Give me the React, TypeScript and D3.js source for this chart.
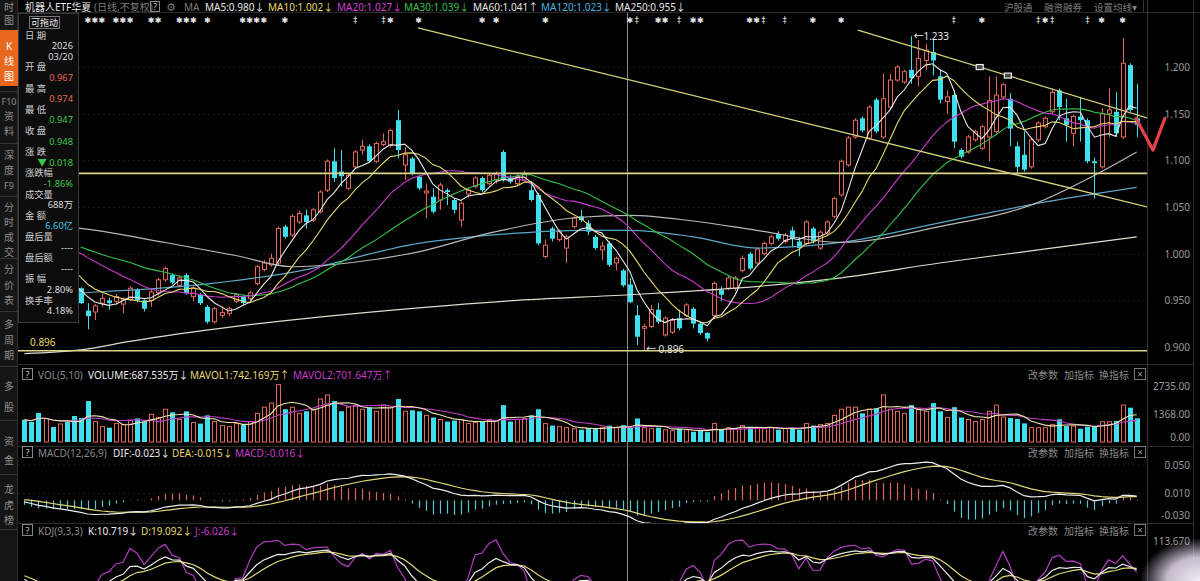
import React from "react";
import * as d3 from "d3";

// closes before the first drawn bar (only used to warm up the moving averages)
const PRE_CLOSE = [1.015,1.022,1.028,1.020,1.012,1.018,1.026,1.030,1.024,1.015,1.020,1.028,1.034,1.030,1.025,1.028,1.032,1.026,1.018,1.012,1.010];

const OPEN = [1.005,0.996,0.986,0.974,0.979,0.966,0.971,0.963,
0.963,0.939,0.9375,0.947,0.950,0.949,0.946,0.951,0.961,0.950,
0.950,0.958,0.972,0.977,0.966,0.977,0.954,0.956,0.943,0.927,
0.934,0.936,0.949,0.954,0.952,0.968,0.983,0.988,0.990,1.029,
1.020,1.034,1.041,1.036,1.045,1.068,1.099,1.088,1.070,1.093,
1.111,1.115,1.099,1.117,1.116,1.143,1.095,1.102,1.0825,1.065,
1.061,1.0575,1.068,1.0575,1.036,1.064,1.072,1.081,1.075,1.079,
1.109,1.081,1.075,1.079,1.068,1.063,0.997,1.027,1.015,1.006,
1.029,1.040,1.0325,1.018,1.004,1.011,0.990,0.982,0.967,0.934,
0.920,0.922,0.940,0.913,0.916,0.931,0.934,0.941,0.925,0.915,
0.934,0.961,0.963,0.963,0.982,1.000,0.990,1.000,1.011,1.021,
1.013,1.025,1.013,1.011,1.027,1.006,1.022,1.040,1.063,1.095,
1.125,1.145,1.124,1.165,1.125,1.157,1.186,1.184,1.197,1.190,
1.207,1.216,1.190,1.163,1.170,1.111,1.109,1.122,1.113,1.125,
1.131,1.168,1.166,1.115,1.106,1.093,1.122,1.136,1.152,1.175,
1.145,1.129,1.147,1.143,1.099,1.093,1.150,1.152,1.125,1.202,1.145];

const HIGH = [1.008,0.998,0.989,0.984,0.981,0.975,0.973,0.966,
0.964,0.947,0.946,0.957,0.953,0.957,0.953,0.965,0.963,0.951,
0.962,0.974,0.986,0.979,0.977,0.979,0.965,0.958,0.945,0.943,
0.944,0.943,0.958,0.956,0.960,0.988,0.993,1.000,1.029,1.031,
1.042,1.046,1.047,1.049,1.068,1.101,1.113,1.111,1.086,1.111,
1.122,1.117,1.120,1.129,1.134,1.154,1.114,1.104,1.084,1.075,
1.070,1.076,1.070,1.059,1.056,1.071,1.083,1.083,1.086,1.088,
1.111,1.084,1.085,1.089,1.077,1.065,1.015,1.029,1.026,1.020,
1.040,1.047,1.036,1.020,1.013,1.013,0.997,0.984,0.974,0.945,
0.925,0.945,0.947,0.933,0.931,0.940,0.947,0.943,0.927,0.916,
0.970,0.965,0.976,0.976,0.998,1.002,1.007,1.013,1.020,1.024,
1.022,1.029,1.018,1.036,1.029,1.025,1.036,1.061,1.101,1.126,
1.145,1.147,1.159,1.167,1.193,1.193,1.202,1.197,1.233,1.229,
1.225,1.229,1.197,1.175,1.175,1.113,1.127,1.133,1.138,1.190,
1.190,1.183,1.172,1.120,1.131,1.124,1.142,1.147,1.177,1.177,
1.166,1.149,1.168,1.145,1.103,1.156,1.177,1.173,1.231,1.204,1.182];

const LOW = [0.992,0.982,0.972,0.970,0.965,0.962,0.958,0.952,
0.946,0.919,0.929,0.943,0.940,0.945,0.936,0.949,0.948,0.938,
0.943,0.955,0.970,0.967,0.964,0.956,0.949,0.945,0.925,0.925,
0.931,0.933,0.947,0.945,0.950,0.966,0.981,0.986,0.988,1.016,
1.018,1.032,1.027,1.034,1.043,1.066,1.077,1.072,1.068,1.091,
1.106,1.097,1.097,1.115,1.114,1.102,1.079,1.084,1.068,1.038,
1.043,1.047,1.052,1.043,1.029,1.060,1.070,1.066,1.073,1.075,
1.077,1.075,1.073,1.077,1.056,1.009,0.995,1.013,1.013,0.990,
1.027,1.034,1.020,1.004,0.993,0.986,0.982,0.964,0.947,0.902,
0.896,0.920,0.925,0.911,0.914,0.918,0.932,0.920,0.913,0.906,
0.930,0.949,0.961,0.960,0.980,0.982,0.988,0.998,1.009,1.014,
1.011,1.007,0.997,1.009,1.011,1.004,1.020,1.038,1.061,1.093,
1.123,1.130,1.122,1.129,1.123,1.155,1.184,1.182,1.182,1.179,
1.197,1.191,1.161,1.150,1.113,1.102,1.107,1.120,1.111,1.099,
1.129,1.166,1.115,1.086,1.088,1.091,1.120,1.134,1.150,1.143,
1.120,1.115,1.120,1.097,1.059,1.091,1.125,1.125,1.123,1.152,1.125];

const CLOSE = [0.995,0.985,0.975,0.980,0.968,0.972,0.962,0.955,
0.947,0.933,0.944,0.952,0.947,0.954,0.951,0.963,0.950,0.941,
0.959,0.972,0.984,0.969,0.974,0.958,0.963,0.947,0.927,0.941,
0.937,0.941,0.956,0.947,0.958,0.986,0.990,0.995,1.027,1.018,
1.040,1.043,1.034,1.047,1.066,1.099,1.081,1.083,1.084,1.109,
1.115,1.099,1.118,1.120,1.132,1.111,1.106,1.086,1.070,1.067,
1.045,1.0736,1.066,1.047,1.054,1.068,1.081,1.068,1.084,1.086,
1.079,1.077,1.0825,1.086,1.0575,1.011,1.009,1.016,1.024,1.018,
1.038,1.036,1.0236,1.006,1.008,0.988,0.995,0.966,0.948,0.911,
0.922,0.940,0.927,0.931,0.9285,0.920,0.945,0.925,0.915,0.909,
0.968,0.956,0.974,0.974,0.995,0.984,1.005,1.011,1.018,1.016,
1.020,1.016,1.006,1.034,1.013,1.023,1.034,1.059,1.099,1.124,
1.143,1.132,1.157,1.131,1.166,1.186,1.200,1.195,1.188,1.209,
1.218,1.207,1.165,1.168,1.120,1.104,1.125,1.131,1.136,1.164,
1.170,1.181,1.134,1.093,1.090,1.122,1.140,1.145,1.173,1.157,
1.138,1.147,1.143,1.099,1.097,1.150,1.154,1.129,1.204,1.154,1.138];

// volume in 万
const VOLUME = [1090,980,1420,1140,730,880,980,1270,
1170,2000,1000,750,700,900,850,1050,1150,1000,
1350,1200,1600,1450,1100,1500,950,900,1300,1000,
800,750,900,850,1000,1400,1700,1900,2800,1600,
1700,1400,1500,1600,2100,2300,2000,1500,1700,1800,
1600,1700,1500,1800,1700,2100,1500,1550,1500,1300,
1200,1100,1000,1050,1100,900,950,1000,1100,1050,
1800,1000,1100,1150,1300,1600,900,800,750,700,
650,600,680,680,700,800,700,820,688,1150,
700,650,700,600,550,650,600,500,550,480,
900,600,700,650,800,750,700,650,700,600,
650,700,600,900,800,850,900,1300,1600,1700,
1700,1400,1600,1650,2300,1600,1500,1400,1800,1600,
1500,1900,1500,1200,1700,1200,1100,1000,1100,1500,
1800,1220,1170,1120,910,700,700,700,860,1110,
780,780,650,750,750,990,990,1025,1805,1675,1155];

// long moving averages (bar index, value)
const MA60_I = [0, 8, 20, 30, 38, 46, 56, 66, 79, 86, 95, 104, 116, 130, 144, 151, 158];
const MA60_V = [1.032, 1.027, 1.012, 0.998, 0.986, 0.990, 1.002, 1.022, 1.039, 1.041, 1.035, 1.025, 1.012, 1.029, 1.055, 1.080, 1.109];
const MA120_I = [0, 8, 24, 38, 56, 70, 79, 86, 95, 104, 116, 130, 144, 158];
const MA120_V = [0.955, 0.958, 0.966, 0.980, 1.011, 1.022, 1.025, 1.025, 1.018, 1.006, 1.012, 1.033, 1.054, 1.071];
const MA250_I = [0, 8, 15, 30, 56, 70, 86, 101, 116, 130, 144, 158];
const MA250_V = [0.893, 0.897, 0.906, 0.922, 0.942, 0.950, 0.956, 0.963, 0.974, 0.990, 1.004, 1.018];

// drawn lines: [i0, p0, i1, p1]
const TRENDS = [[55.9, 1.2418, 159.5, 1.050], [118.4, 1.2396, 159.5, 1.1454]];
const TREND_MARK_I = [135.7, 139.7];
const H_LINES = [1.086, 0.896];
const V_MARK_I = [157.9, 160.3, 162];
const V_MARK_P = [1.145, 1.111, 1.145];

const PRICE_TICKS = [1.2, 1.15, 1.1, 1.05, 1.0, 0.95, 0.9];
const NEWS_I = [9,10,11,13,14,15,18,19,22,23,24,26,31,32,33,34,37,47,51,52,56,65,67,74,86,87,90,91,93,95,96,103,104,105,108,112,116,132,136,144,145,146,151,153,156];
const NEWS_DAGGER = [47, 51, 87, 93, 105, 108, 132, 144, 146, 151];
const CROSS_I = 86;
const HIGH_MARK_I = 126;
const LOW_MARK_I = 88;

const FONT = "'Noto Sans', 'Noto Sans CJK SC', sans-serif";
const RED = "#e0685a";
const CYAN = "#3ee0ee";
const GREEN = "#3cc84a";

const SIDEBAR = [
  { t: ["时"], y: [7] }, { t: ["图"], y: [20] },
  { t: ["K", "线", "图"], y: [46, 61, 76], active: true },
  { t: ["F10", "资", "料"], y: [101, 116, 131] },
  { t: ["深", "度", "F9"], y: [155, 170, 185] },
  { t: ["分", "时", "成", "交"], y: [207, 222, 237, 252] },
  { t: ["分", "价", "表"], y: [269, 285, 300] },
  { t: ["多", "周", "期"], y: [324, 340, 355] },
  { t: ["多", "股"], y: [386, 407] },
  { t: ["资", "金"], y: [441, 460] },
  { t: ["龙", "虎", "榜"], y: [489, 505, 520] },
];
const SIDEBAR_SEP = [91, 143, 196, 258, 311, 366, 420, 474, 529];

// info panel lines: text, colour, is value (right aligned)
const INFO: [string, string, boolean][] = [
  ["日 期", "#cfcfcf", false], ["2026", "#ddd", true], ["03/20", "#ddd", true],
  ["开 盘", "#cfcfcf", false], ["0.967", RED, true],
  ["最 高", "#cfcfcf", false], ["0.974", RED, true],
  ["最 低", "#cfcfcf", false], ["0.947", GREEN, true],
  ["收 盘", "#cfcfcf", false], ["0.948", GREEN, true],
  ["涨 跌", "#cfcfcf", false], ["▼ 0.018", GREEN, true],
  ["涨跌幅", "#cfcfcf", false], ["-1.86%", GREEN, true],
  ["成交量", "#cfcfcf", false], ["688万", "#ddd", true],
  ["金 额", "#cfcfcf", false], ["6.60亿", "#40c8e8", true],
  ["盘后量", "#cfcfcf", false], ["----", "#ddd", true],
  ["盘后额", "#cfcfcf", false], ["----", "#ddd", true],
  ["振 幅", "#cfcfcf", false], ["2.80%", "#ddd", true],
  ["换手率", "#cfcfcf", false], ["4.18%", "#ddd", true],
];

const HEADER = [
  ["MA5:0.980↓", "#e8e8e8", 205], ["MA10:1.002↓", "#e6d96e", 268], ["MA20:1.027↓", "#d040d0", 337],
  ["MA30:1.039↓", "#34c24a", 404], ["MA60:1.041↑", "#e8e8e8", 473], ["MA120:1.023↓", "#4ab4e0", 541],
  ["MA250:0.955↓", "#e8e8e8", 615],
];

export default function App() {
  const N = CLOSE.length;
  const x = d3.scaleLinear().domain([0, N - 1]).range([24.4, 1136.7]);
  const yP = d3.scaleLinear().domain([0.9, 1.2]).range([347, 67]);
  const yV = d3.scaleLinear().domain([0, 2735]).range([442, 386]);
  const yM = d3.scaleLinear().domain([-0.03, 0.05]).range([521.6, 465]);
  const yK = d3.scaleLinear().domain([-12, 113.67]).range([606, 541]);

  const all = PRE_CLOSE.concat(CLOSE);
  const P = PRE_CLOSE.length;
  const ma = (n: number) => CLOSE.map((_, i) => {
    const e = P + i, s = e - n + 1;
    return s < 0 ? null : (d3.mean(all.slice(s, e + 1)) as number);
  });
  const MAS: [(number | null)[], string][] = [
    [ma(30), "#34c24a"], [ma(20), "#c83ccc"], [ma(10), "#e6d96e"], [ma(5), "#e8e8e8"],
  ];

  // MACD
  let e12 = all[0], e26 = all[0], dea = 0;
  const dif: number[] = [], deaA: number[] = [], hist: number[] = [];
  all.forEach((c, k) => {
    e12 = e12 * 11 / 13 + c * 2 / 13;
    e26 = e26 * 25 / 27 + c * 2 / 27;
    const d = e12 - e26;
    dea = dea * 8 / 10 + d * 2 / 10;
    if (k >= P) { dif.push(d); deaA.push(dea); hist.push(2 * (d - dea)); }
  });

  // KDJ
  let K = 50, D = 50;
  const kA: number[] = [], dA: number[] = [], jA: number[] = [];
  CLOSE.forEach((c, i) => {
    const s = Math.max(0, i - 8);
    const hh = d3.max(HIGH.slice(s, i + 1)) as number;
    const ll = d3.min(LOW.slice(s, i + 1)) as number;
    const rsv = hh === ll ? 50 : ((c - ll) / (hh - ll)) * 100;
    K = (2 * K + rsv) / 3; D = (2 * D + K) / 3;
    kA.push(K); dA.push(D); jA.push(3 * K - 2 * D);
  });

  const vma = (n: number) => VOLUME.map((_, i) => d3.mean(VOLUME.slice(Math.max(0, i - n + 1), i + 1)) as number);

  const lineP = d3.line<number | null>().defined((d) => d != null).x((_, i) => x(i)).y((d) => yP(d as number));
  const sparse = (I: number[], V: number[]) =>
    d3.line<number>().curve(d3.curveMonotoneX).x((_, k) => x(I[k])).y((d) => yP(d))(V) as string;
  const lineOn = (sc: d3.ScaleLinear<number, number>) =>
    d3.line<number>().x((_, i) => x(i)).y((d) => sc(d));

  const cx = (i: number) => Math.round(x(i)) + 0.5;

  const txt = (s: string, X: number, Y: number, fill: string, size = 10, anchor: any = "start", extra: any = {}) => (
    <text x={X} y={Y} fill={fill} fontSize={size} textAnchor={anchor} fontFamily={FONT} {...extra}>{s}</text>
  );

  const panelTools = (Y: number) => (
    <g>
      {txt("改参数", 1028, Y, "#8a8a8a")}
      {txt("加指标", 1064, Y, "#8a8a8a")}
      {txt("换指标", 1099, Y, "#8a8a8a")}
      <rect x={1134.5} y={Y - 10.5} width={11} height={11} fill="none" stroke="#777" />
      {txt("×", 1140, Y - 1, "#999", 10, "middle")}
    </g>
  );
  const qBox = (Y: number) => (
    <g>
      <rect x={22.5} y={Y - 10.5} width={10} height={11} fill="none" stroke="#888" />
      {txt("?", 27.5, Y - 1.5, "#ccc", 9, "middle")}
    </g>
  );

  const trendScale = (t: number[]) => d3.scaleLinear().domain([t[0], t[2]]).range([t[1], t[3]]);
  const tB = trendScale(TRENDS[1]);

  return (
    <div style={{ position: "fixed", left: 0, top: 0, width: 1200, height: 581, background: "#000", overflow: "hidden" }}>
      <svg width={1200} height={581} style={{ display: "block" }}>
        <defs>
          <clipPath id="cMain"><rect x={18} y={12} width={1129} height={352} /></clipPath>
          <clipPath id="cVol"><rect x={18} y={382} width={1129} height={64} /></clipPath>
          <clipPath id="cMacd"><rect x={18} y={460} width={1129} height={63} /></clipPath>
          <clipPath id="cKdj"><rect x={18} y={538} width={1129} height={43} /></clipPath>
          <radialGradient id="glare" cx="1" cy="1" r="1">
            <stop offset="0" stopColor="#f4eef6" stopOpacity="1" />
            <stop offset="0.55" stopColor="#e8dcef" stopOpacity="0.85" />
            <stop offset="1" stopColor="#e0d0ea" stopOpacity="0" />
          </radialGradient>
        </defs>
        <rect x={0} y={0} width={1200} height={581} fill="#000" />

        {/* grid */}
        {PRICE_TICKS.map((p) => (
          <line key={p} x1={18} x2={1147} y1={Math.round(yP(p)) + 0.5} y2={Math.round(yP(p)) + 0.5} stroke="#1c1c1c" strokeDasharray="2,3" />
        ))}
        {[1368].map((v) => <line key={v} x1={18} x2={1147} y1={yV(v)} y2={yV(v)} stroke="#1c1c1c" strokeDasharray="2,3" />)}
        {[0.05, 0.01, -0.03].map((v) => <line key={v} x1={18} x2={1147} y1={yM(v)} y2={yM(v)} stroke="#1c1c1c" strokeDasharray="2,3" />)}

        {/* panel separators */}
        <line x1={0} x2={1200} y1={12.5} y2={12.5} stroke="#2a2a2a" />
        {[364.5, 446.5, 523.5].map((y) => <line key={y} x1={18} x2={1193} y1={y} y2={y} stroke="#2e2e2e" />)}
        <line x1={1147.5} x2={1147.5} y1={0} y2={581} stroke="#333" />
        <line x1={1193.5} x2={1193.5} y1={0} y2={581} stroke="#2e2e2e" />

        {/* crosshair */}
        <line x1={cx(CROSS_I) - 3} x2={cx(CROSS_I) - 3} y1={13} y2={581} stroke="#8a8a8a" strokeWidth={1} />

        <g clipPath="url(#cMain)">
          {/* candles */}
          {CLOSE.map((c, i) => {
            const o = OPEN[i], up = c >= o;
            const col = up ? RED : CYAN;
            const top = yP(Math.max(o, c)), bot = yP(Math.min(o, c));
            const X = cx(i);
            return (
              <g key={i}>
                <line x1={X} x2={X} y1={yP(HIGH[i])} y2={yP(LOW[i])} stroke={col} strokeWidth={1} />
                {up ? (
                  <rect x={X - 2} y={top} width={4} height={Math.max(bot - top, 1)} fill="#000" stroke={col} strokeWidth={1} />
                ) : (
                  <rect x={X - 2.5} y={top} width={5} height={Math.max(bot - top, 1.2)} fill={col} />
                )}
              </g>
            );
          })}
          {/* long MAs */}
          <path d={sparse(MA250_I, MA250_V)} fill="none" stroke="#dcdcd0" strokeWidth={1.2} />
          <path d={sparse(MA120_I, MA120_V)} fill="none" stroke="#5aa8c8" strokeWidth={1.2} />
          <path d={sparse(MA60_I, MA60_V)} fill="none" stroke="#b8b8b8" strokeWidth={1.2} />
          {MAS.map(([d, col], k) => (
            <path key={k} d={lineP(d) as string} fill="none" stroke={col} strokeWidth={1.1} />
          ))}
          {/* horizontal lines */}
          {H_LINES.map((p) => (
            <line key={p} x1={18} x2={1147} y1={yP(p)} y2={yP(p)} stroke="#dcd68c" strokeWidth={1.6} />
          ))}
          {/* trend lines */}
          {TRENDS.map((t, k) => (
            <line key={k} x1={x(t[0])} y1={yP(t[1])} x2={x(t[2])} y2={yP(t[3])} stroke="#d8d27a" strokeWidth={1.3} />
          ))}
          {TREND_MARK_I.map((i) => (
            <rect key={i} x={x(i) - 3.5} y={yP(tB(i)) - 2.5} width={7} height={5} fill="#444" stroke="#eee" strokeWidth={1.2} />
          ))}
          {/* high / low marks */}
          {txt("←" + HIGH[HIGH_MARK_I].toFixed(3), x(HIGH_MARK_I) + 2, yP(HIGH[HIGH_MARK_I]) + 4, "#e8e8e8", 10)}
          {txt("← " + LOW[LOW_MARK_I].toFixed(3), x(LOW_MARK_I) + 2, yP(LOW[LOW_MARK_I]) + 2, "#e0e0e0", 10)}
          {/* news markers */}
          {NEWS_I.map((i) => txt(NEWS_DAGGER.includes(i) ? "‡" : "✱", x(i), 23, "#e8e8e8", 8, "middle", { key: "n" + i, fontFamily: "DejaVu Sans" }))}
        </g>

        {/* V annotation (drawn over the axis area) */}
        <path d={d3.line<number>().x((_, k) => x(V_MARK_I[k])).y((d) => yP(d))(V_MARK_P) as string}
          fill="none" stroke="#e8404a" strokeWidth={3.2} strokeLinejoin="round" strokeLinecap="round" />

        {/* price axis */}
        {PRICE_TICKS.map((p) => txt(p.toFixed(3), 1190, yP(p) + 4, "#9a9a9a", 10, "end", { key: "pt" + p }))}

        {/* volume */}
        <g clipPath="url(#cVol)">
          {VOLUME.map((v, i) => {
            const up = CLOSE[i] >= OPEN[i];
            const X = cx(i);
            return up ? (
              <rect key={i} x={X - 2} y={yV(v)} width={4} height={yV(0) - yV(v)} fill="none" stroke={RED} strokeWidth={1} />
            ) : (
              <rect key={i} x={X - 2.5} y={yV(v)} width={5} height={yV(0) - yV(v)} fill={CYAN} />
            );
          })}
          <path d={lineOn(yV)(vma(10)) as string} fill="none" stroke="#c040c8" strokeWidth={1.1} />
          <path d={lineOn(yV)(vma(5)) as string} fill="none" stroke="#ece4b0" strokeWidth={1.1} />
        </g>
        {qBox(379)}
        {txt("VOL(5,10)", 38, 379, "#8a8a8a")}
        {txt("VOLUME:687.535万↓", 88, 379, "#ececec")}
        {txt("MAVOL1:742.169万↑", 190, 379, "#e6d96e")}
        {txt("MAVOL2:701.647万↑", 293, 379, "#c83ccc")}
        {panelTools(379)}
        {txt("2735.00", 1190, 390, "#9a9a9a", 10, "end")}
        {txt("1368.00", 1190, 418, "#9a9a9a", 10, "end")}
        {txt("0.00", 1190, 441, "#9a9a9a", 10, "end")}

        {/* MACD */}
        <g clipPath="url(#cMacd)">
          {hist.map((h, i) => (
            <line key={i} x1={cx(i)} x2={cx(i)} y1={yM(0)} y2={yM(h)} stroke={h >= 0 ? "#d8685c" : "#58c8d0"} strokeWidth={1.2} />
          ))}
          <path d={lineOn(yM)(deaA) as string} fill="none" stroke="#e0d878" strokeWidth={1.2} />
          <path d={lineOn(yM)(dif) as string} fill="none" stroke="#ececec" strokeWidth={1.2} />
        </g>
        {qBox(457)}
        {txt("MACD(12,26,9)", 38, 457, "#8a8a8a")}
        {txt("DIF:-0.023↓", 113, 457, "#ececec")}
        {txt("DEA:-0.015↓", 172, 457, "#e6d96e")}
        {txt("MACD:-0.016↓", 235, 457, "#c83ccc")}
        {panelTools(457)}
        {txt("0.050", 1190, 469, "#9a9a9a", 10, "end")}
        {txt("0.010", 1190, 497, "#9a9a9a", 10, "end")}
        {txt("-0.030", 1190, 519, "#9a9a9a", 10, "end")}

        {/* KDJ */}
        <g clipPath="url(#cKdj)">
          <path d={lineOn(yK)(jA) as string} fill="none" stroke="#b23cc0" strokeWidth={1.2} />
          <path d={lineOn(yK)(dA) as string} fill="none" stroke="#e0d878" strokeWidth={1.2} />
          <path d={lineOn(yK)(kA) as string} fill="none" stroke="#ececec" strokeWidth={1.2} />
        </g>
        {qBox(535)}
        {txt("KDJ(9,3,3)", 38, 535, "#8a8a8a")}
        {txt("K:10.719↓", 88, 535, "#ececec")}
        {txt("D:19.092↓", 141, 535, "#e6d96e")}
        {txt("J:-6.026↓", 195, 535, "#c83ccc")}
        {panelTools(535)}
        {txt("113.670", 1190, 545, "#9a9a9a", 10, "end")}

        {/* info panel */}
        <rect x={18.5} y={13.5} width={60} height={309} fill="#0c0c0c" stroke="#3a3a3a" />
        <rect x={29.5} y={16.5} width={30} height={12} fill="none" stroke="#777" />
        {txt("可拖动", 44.5, 26, "#eee", 9, "middle")}
        {INFO.map((r, k) => txt(r[0], r[2] ? 73 : 25, 38.5 + k * 10.6, r[1], 9.3, r[2] ? "end" : "start", { key: "inf" + k }))}
        {txt("0.896", 30, 346, "#e6d96e", 10)}

        {/* sidebar */}
        <rect x={0} y={0} width={18} height={581} fill="#151515" />
        <line x1={17.5} x2={17.5} y1={0} y2={581} stroke="#2c2c2c" />
        <rect x={0} y={30} width={18} height={56} fill="#e8681e" />
        {SIDEBAR_SEP.map((y) => <line key={y} x1={0} x2={18} y1={y + 0.5} y2={y + 0.5} stroke="#333" />)}
        {SIDEBAR.map((g, k) => g.t.map((c, j) => txt(c, 9, g.y[j] + 4, g.active ? "#fff" : "#8e8e8e", c.length > 1 ? 9 : 10, "middle", { key: k + "-" + j })))}

        {/* top header */}
        {txt("机器人ETF华夏", 25, 10.5, "#e8e8e8", 10)}
        {txt("(日线,不复权)", 94, 10.5, "#7c7c7c", 10)}
        <rect x={150.5} y={1.5} width={9} height={10} fill="none" stroke="#888" />
        {txt("?", 155, 10, "#ccc", 8.5, "middle")}
        {txt("⚙", 171, 10.5, "#777", 11, "middle", { fontFamily: "DejaVu Sans" })}
        {txt("MA", 184, 10.5, "#7c7c7c", 10)}
        {HEADER.map((h) => txt(h[0] as string, h[2] as number, 10.5, h[1] as string, 10, "start", { key: h[0] as string }))}
        {txt("沪股通", 1004, 10.5, "#7c7c7c", 9.5)}
        {txt("融资融券", 1044, 10.5, "#7c7c7c", 9.5)}
        {txt("设置均线▾", 1094, 10.5, "#7c7c7c", 9.5)}
        <line x1={1143.5} x2={1143.5} y1={0} y2={12} stroke="#333" />

        {/* photo glare bottom-right */}
        <rect x={1140} y={538} width={60} height={43} fill="url(#glare)" />
      </svg>
    </div>
  );
}
